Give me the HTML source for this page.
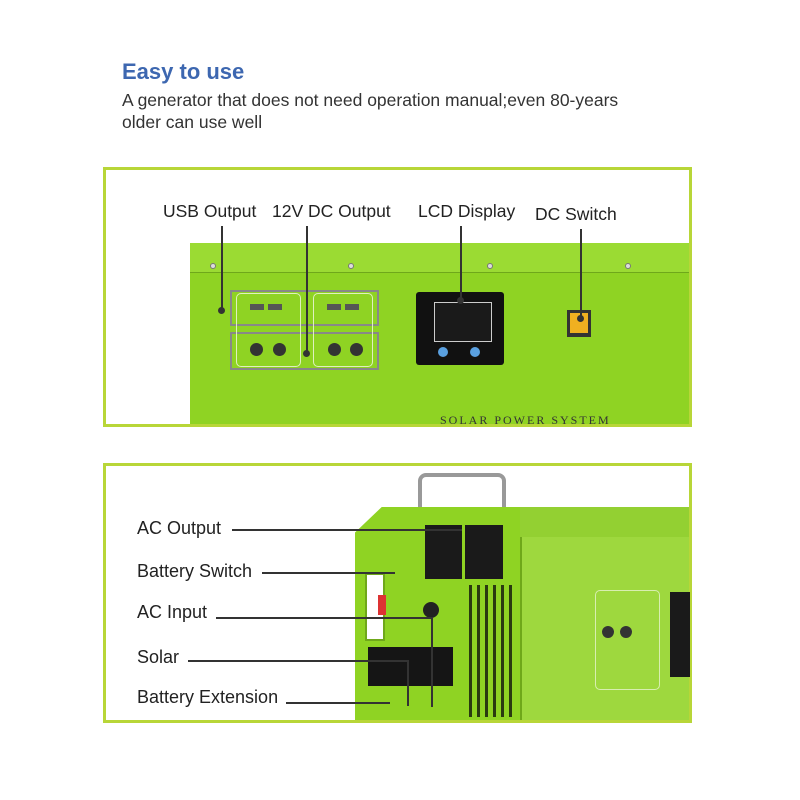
<!DOCTYPE html>
<html><head><style>
body{margin:0;width:800px;height:800px;background:#fff;position:relative;overflow:hidden;font-family:"Liberation Sans",sans-serif}
div{position:absolute;box-sizing:border-box}
.t{color:#222;font-size:17.5px;white-space:nowrap}
.ln{background:#333}
.dot{width:7px;height:7px;border-radius:50%;background:#333}
.scr{width:6px;height:6px;border-radius:50%;background:#ddd;border:1px solid #777}
</style></head><body>
<div style="left:122px;top:59px;font-size:22px;font-weight:bold;color:#3d67b0">Easy to use</div>
<div style="left:122px;top:89px;font-size:17.5px;color:#333;line-height:22px">A generator that does not need operation manual;even 80-years<br>older can use well</div>

<!-- panel 1 -->
<div style="left:103px;top:167px;width:589px;height:260px;border:3px solid #b8d638"></div>
<div style="left:190px;top:243px;width:499px;height:181px;background:#8fd323"></div>
<div style="left:190px;top:243px;width:499px;height:30px;background:#9bdb33;border-bottom:1px solid #6fa81a"></div>
<div class="scr" style="left:210px;top:263px"></div><div class="scr" style="left:348px;top:263px"></div><div class="scr" style="left:487px;top:263px"></div><div class="scr" style="left:625px;top:263px"></div>
<div style="left:230px;top:290px;width:149px;height:36px;border:2px solid #888"></div>
<div style="left:230px;top:332px;width:149px;height:38px;border:2px solid #888"></div>
<div style="left:236px;top:293px;width:65px;height:74px;border:1px solid #dff0c0;border-radius:5px"></div>
<div style="left:313px;top:293px;width:60px;height:74px;border:1px solid #dff0c0;border-radius:5px"></div>
<div style="left:250px;top:304px;width:14px;height:6px;background:#555"></div><div style="left:268px;top:304px;width:14px;height:6px;background:#555"></div>
<div style="left:327px;top:304px;width:14px;height:6px;background:#555"></div><div style="left:345px;top:304px;width:14px;height:6px;background:#555"></div>
<div style="left:250px;top:343px;width:13px;height:13px;border-radius:50%;background:#333"></div><div style="left:273px;top:343px;width:13px;height:13px;border-radius:50%;background:#333"></div>
<div style="left:328px;top:343px;width:13px;height:13px;border-radius:50%;background:#333"></div><div style="left:350px;top:343px;width:13px;height:13px;border-radius:50%;background:#333"></div>
<div style="left:416px;top:292px;width:88px;height:73px;background:#111;border-radius:3px"></div>
<div style="left:434px;top:302px;width:58px;height:40px;border:1px solid #ccc;background:#1a1a1a"></div>
<div style="left:438px;top:347px;width:10px;height:10px;border-radius:50%;background:#5aa0e0"></div>
<div style="left:470px;top:347px;width:10px;height:10px;border-radius:50%;background:#5aa0e0"></div>
<div style="left:567px;top:310px;width:24px;height:27px;background:#333"></div>
<div style="left:570px;top:313px;width:18px;height:20px;background:#f0b020"></div>
<div style="left:440px;top:413px;font-family:'Liberation Serif',serif;font-size:12px;color:#333;letter-spacing:2px">SOLAR POWER SYSTEM</div>
<div class="t" style="left:163px;top:201px">USB Output</div>
<div class="t" style="left:272px;top:201px">12V DC Output</div>
<div class="t" style="left:418px;top:201px">LCD Display</div>
<div class="t" style="left:535px;top:204px">DC Switch</div>
<div class="ln" style="left:221px;top:226px;width:2px;height:84px"></div><div class="dot" style="left:218px;top:307px"></div>
<div class="ln" style="left:306px;top:226px;width:2px;height:127px"></div><div class="dot" style="left:303px;top:350px"></div>
<div class="ln" style="left:460px;top:226px;width:2px;height:74px"></div><div class="dot" style="left:457px;top:297px"></div>
<div class="ln" style="left:580px;top:229px;width:2px;height:89px"></div><div class="dot" style="left:577px;top:315px"></div>

<!-- panel 2 -->
<div style="left:103px;top:463px;width:589px;height:260px;border:3px solid #b8d638"></div>
<div style="left:418px;top:473px;width:88px;height:50px;border:4px solid #999;border-bottom:none;border-radius:8px 8px 0 0"></div>
<div style="left:355px;top:507px;width:334px;height:213px;background:#8fd323;clip-path:polygon(8% 0,100% 0,100% 100%,0 100%,0 12%)"></div>
<div style="left:520px;top:507px;width:169px;height:213px;background:#9ed83e;border-left:2px solid #6fa81a"></div>
<div style="left:520px;top:507px;width:169px;height:30px;background:#93d032"></div>
<div style="left:425px;top:525px;width:37px;height:54px;background:#1a1a1a"></div>
<div style="left:465px;top:525px;width:38px;height:54px;background:#1a1a1a"></div>
<div style="left:469px;top:585px;width:46px;height:132px;background:repeating-linear-gradient(90deg,#2a3a10 0 3px,#8fd323 3px 8px)"></div>
<div style="left:365px;top:573px;width:20px;height:68px;background:#fff;border:2px solid #6fa81a"></div>
<div style="left:378px;top:595px;width:8px;height:20px;background:#d33"></div>
<div style="left:423px;top:602px;width:16px;height:16px;border-radius:50%;background:#222"></div>
<div style="left:368px;top:647px;width:85px;height:39px;background:#151515"></div>
<div style="left:595px;top:590px;width:65px;height:100px;border:1px solid #d8eeb0;border-radius:5px"></div>
<div style="left:602px;top:626px;width:12px;height:12px;border-radius:50%;background:#333"></div>
<div style="left:620px;top:626px;width:12px;height:12px;border-radius:50%;background:#333"></div>
<div style="left:670px;top:592px;width:20px;height:85px;background:#1a1a1a"></div>
<div class="t" style="left:137px;top:518px;font-size:18px">AC Output</div>
<div class="t" style="left:137px;top:561px;font-size:18px">Battery Switch</div>
<div class="t" style="left:137px;top:602px;font-size:18px">AC Input</div>
<div class="t" style="left:137px;top:647px;font-size:18px">Solar</div>
<div class="t" style="left:137px;top:687px;font-size:18px">Battery Extension</div>
<div class="ln" style="left:232px;top:529px;width:230px;height:2px"></div>
<div class="ln" style="left:262px;top:572px;width:133px;height:2px"></div>
<div class="ln" style="left:216px;top:617px;width:217px;height:2px"></div>
<div class="ln" style="left:431px;top:617px;width:2px;height:90px"></div>
<div class="ln" style="left:188px;top:660px;width:220px;height:2px"></div>
<div class="ln" style="left:407px;top:660px;width:2px;height:46px"></div>
<div class="ln" style="left:286px;top:702px;width:104px;height:2px"></div>
</body></html>
